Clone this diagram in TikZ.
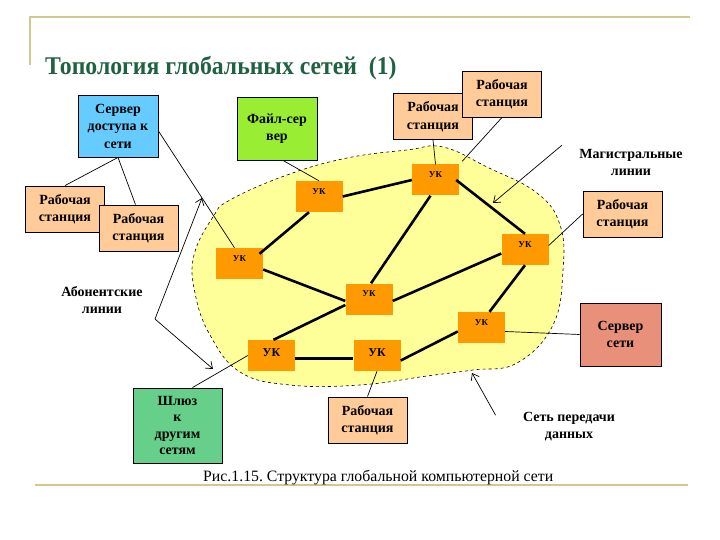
\documentclass[tikz,border=0pt]{standalone}
\usepackage{fontspec}
\setmainfont{Liberation Serif}
\usetikzlibrary{arrows.meta}
\definecolor{rulekhaki}{HTML}{D2C78C}
\definecolor{titlegreen}{HTML}{1F6140}
\definecolor{cloudyellow}{HTML}{FFFF99}
\definecolor{ukorange}{HTML}{FF9900}
\definecolor{wspeach}{HTML}{FFCC99}
\definecolor{accblue}{HTML}{66CCFF}
\definecolor{filegreen}{HTML}{99EE33}
\definecolor{gategreen}{HTML}{66D08A}
\definecolor{srvsalmon}{HTML}{E9907A}
\frenchspacing

\begin{document}
\begin{tikzpicture}[x=1pt,y=-1pt,
	box/.style={draw,line width=0.9pt,align=center,inner sep=0pt,font=\bfseries\fontsize{14}{17.5}\selectfont},
	ws/.style={box,fill=wspeach,minimum width=79pt,minimum height=46pt},
	uk/.style={fill=ukorange,minimum width=47pt,minimum height=31pt,inner sep=0pt,font=\bfseries\fontsize{9}{9}\selectfont,text depth=10pt},
	ukbig/.style={uk,font=\bfseries\fontsize{12}{12}\selectfont,text depth=5pt},
	note/.style={align=center,font=\bfseries\fontsize{14}{17}\selectfont},
	trunk/.style={line width=2.6pt},
	tap/.style={line width=0.7pt},
	arr/.style={line width=0.7pt,-{Straight Barb[length=6pt,width=9pt]}}]
		\useasboundingbox (0,0) rectangle (720,540);
		% frame lines and title
		\draw[rulekhaki,line width=2.5pt] (30,65) -- (30,17) -- (690,17);
		\draw[rulekhaki,line width=2.5pt] (35,485) -- (688,485);
		\node[anchor=base west,text=titlegreen,font=\bfseries\fontsize{25.5}{28}\selectfont,inner sep=0pt] (title) at (45,75) {\scalebox{0.93}[1]{Топология глобальных сетей~~(1)}};
		\node[anchor=base west,font=\fontsize{15.8}{18}\selectfont,inner sep=0pt] (caption) at (203,481) {Рис.1.15. Структура глобальной компьютерной сети};

		% data network
		\draw[dashed,line width=0.6pt,fill=cloudyellow] plot[smooth cycle,tension=0.7] coordinates {
			(230,200) (287,175) (347,158) (407,150) (443,147) (487,167) (537,193) (560,225)
			(563,270) (553,325) (517,363) (473,370) (427,376) (360,385) (290,385) (240,372)
			(210,335) (195,293) (194,255) (213,217)};

		\node[uk] (uk1) at (319,196.5) {УК};
		\node[uk] (uk2) at (435.5,180) {УК};
		\node[uk] (uk3) at (239.5,263.5) {УК};
		\node[uk] (uk4) at (525,249.5) {УК};
		\node[uk] (uk5) at (369,299) {УК};
		\node[uk] (uk6) at (481.5,327.5) {УК};
		\node[ukbig] (uk7) at (271.5,355.5) {УК};
		\node[ukbig] (uk8) at (377,355.5) {УК};

		\draw[trunk] (uk1.east) -- (uk2.west);
		\draw[trunk] ([xshift=-10pt]uk1.south) -- ([xshift=20pt,yshift=-6pt]uk3.north);
		\draw[trunk] ([xshift=-3pt]uk2.east) -- (uk4.north);
		\draw[trunk] ([xshift=-5pt]uk2.south) -- ([xshift=2pt]uk5.north);
		\draw[trunk] ([yshift=-6pt]uk3.east) -- ([yshift=-2pt]uk5.west);
		\draw[trunk] ([yshift=-4pt]uk4.west) -- ([yshift=-2pt]uk5.east);
		\draw[trunk] (uk4.south) -- ([xshift=8pt]uk6.north);
		\draw[trunk] ([yshift=-6pt]uk5.west) -- ([xshift=2pt]uk7.north);
		\draw[trunk] ([yshift=-3pt]uk7.east) -- ([yshift=-3pt]uk8.west);
		\draw[trunk] ([yshift=-5pt]uk8.east) -- ([yshift=-4pt]uk6.west);

		% stations and servers
		\node[box,fill=accblue,minimum width=80pt,minimum height=62pt] (srvacc) at (118,126) {Сервер\\доступа к\\сети};
		\node[box,fill=filegreen,minimum width=80pt,minimum height=63pt] (fsrv) at (277,128.5) {Файл-сер\\вер};
		\node[ws] (wsA) at (65,209) {Рабочая\\станция};
		\node[ws] (wsB) at (138.5,228) {Рабочая\\станция};
		\node[ws] (wsC) at (433,116.5) {Рабочая\\станция};
		\node[ws] (wsD) at (502,94) {Рабочая\\станция};
		\node[ws] (wsE) at (622.5,214) {Рабочая\\станция};
		\node[ws] (wsF) at (367.5,420) {Рабочая\\станция};
		\node[box,fill=srvsalmon,minimum width=81pt,minimum height=63pt,font=\bfseries\fontsize{14}{16.5}\selectfont] (srvnet) at (620.5,334.5) {Сервер\\сети};
		\node[box,fill=gategreen,minimum width=89pt,minimum height=75pt,font=\bfseries\fontsize{14}{16.5}\selectfont] (gate) at (177.5,425.5) {Шлюз\\к\\другим\\сетям};

		\draw[tap] ([yshift=-5pt]srvacc.east) -- ([xshift=-5pt]uk3.north);
		\draw[tap] (srvacc.south) -- (wsA.north);
		\draw[tap] (srvacc.south) -- ([xshift=-3pt]wsB.north);
		\draw[tap] ([xshift=6pt]fsrv.south) -- (uk1.north);
		\draw[tap] (wsC.south) -- (uk2.north);
		\draw[tap] (wsD.south) -- ([xshift=3pt,yshift=3pt]uk2.north east);
		\draw[tap] (wsE.west) -- ([yshift=4pt]uk4.east);
		\draw[tap] (srvnet.west) -- ([yshift=-4pt]uk6.east);
		\draw[tap] (wsF.north) -- (uk8.south);
		\draw[tap] ([xshift=15pt]gate.north) -- (uk7.west);

		% labels
		\node[note] (mag) at (631,162) {Магистральные\\линии};
		\node[note] (abon) at (102,300) {Абонентские\\линии};
		\node[note] (net) at (569,427) {Сеть передачи\\данных};
		\coordinate (maghead) at (493,203);
		\coordinate (nethead) at (472,373);
		\coordinate (abonv) at (155,319);
		\coordinate (abonup) at (202,198);
		\coordinate (abondn) at (213,369);
		\draw[arr] ([xshift=-14pt]mag.north west) -- (maghead);
		\draw[arr] ([xshift=-24pt,yshift=-6pt]net.north west) -- (nethead);
		\draw[arr] (abonv) -- (abonup);
		\draw[arr] (abonv) -- (abondn);
\end{tikzpicture}
\end{document}
